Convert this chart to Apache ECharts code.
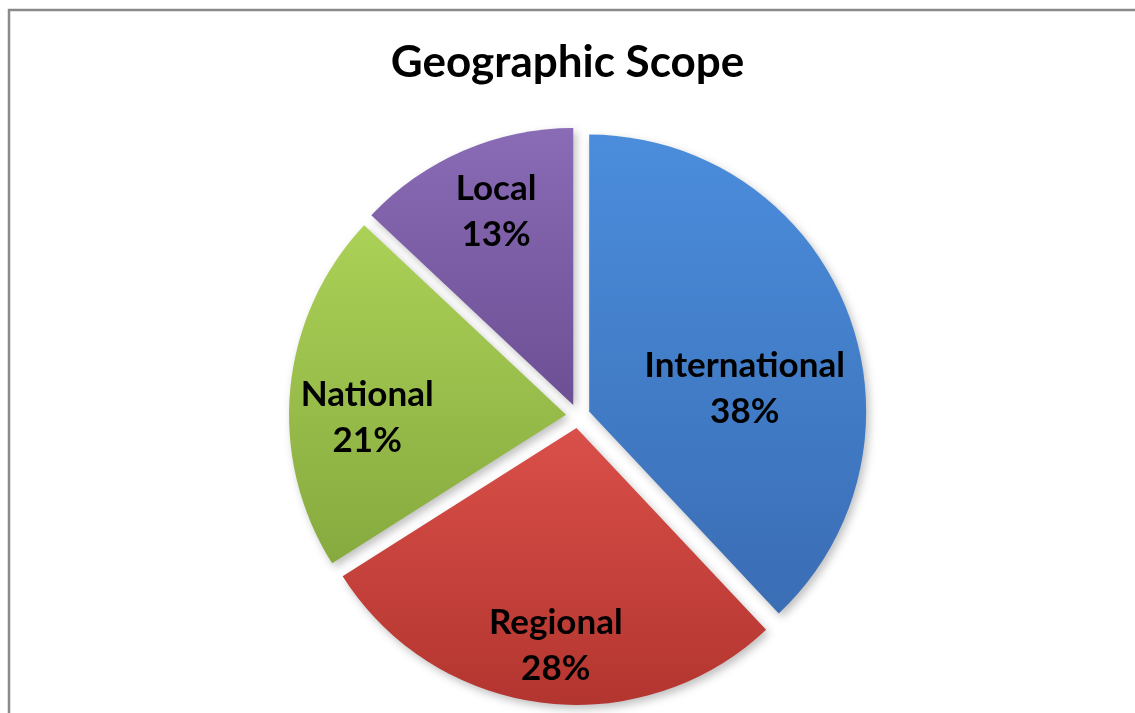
<!DOCTYPE html>
<html>
<head>
<meta charset="utf-8">
<title>Geographic Scope</title>
<script src="https://cdn.jsdelivr.net/npm/echarts@6/dist/echarts.min.js"></script>
<style>
  html, body { margin: 0; padding: 0; background: #fff; }
  #chart { width: 1135px; height: 713px; }
</style>
</head>
<body>
<div id="chart"></div>
<script>
const categories = ['International', 'Regional', 'National', 'Local'];
const shares = [38, 28, 21, 13];

// slice colours (light top -> dark bottom)
const topColors = ['#4b8ddc', '#da4f49', '#abd157', '#8a6bb6'];
const bottomColors = ['#3a6db4', '#b3352f', '#86aa3e', '#6c4f94'];

// label nudges so text sits where the original puts it
const labelNudge = [[24, 29], [-3, 77], [-58, 16], [-21, -63]];

const chart = echarts.init(document.getElementById('chart'));

const option = {
  animation: false,
  title: {
    text: 'Geographic Scope',
    left: 'center',
    top: 36,
    textStyle: {
      fontFamily: 'Lato',
      fontSize: 44,
      fontWeight: 'bold',
      color: '#000'
    }
  },
  graphic: [
    {
      type: 'rect',
      shape: { x: 9, y: 10, width: 2000, height: 2000 },
      style: { fill: 'none', stroke: '#8a8a8a', lineWidth: 2.5 },
      silent: true
    }
  ],
  series: [
    {
      type: 'pie',
      center: [578, 416],
      radius: [0, 277],
      startAngle: 90,
      clockwise: true,
      selectedMode: 'multiple',
      selectedOffset: 12,
      emphasis: { disabled: true },
      itemStyle: {
        shadowBlur: 8,
        shadowOffsetX: 3,
        shadowOffsetY: 4,
        shadowColor: 'rgba(0,0,0,0.25)'
      },
      label: {
        show: true,
        position: 'inside',
        formatter: '{b}\n{d}%',
        fontFamily: 'Lato',
        fontSize: 35,
        fontWeight: 'bold',
        lineHeight: 46,
        color: '#000'
      },
      labelLine: { show: false },
      labelLayout: function (params) {
        const n = labelNudge[params.dataIndex];
        return { dx: n[0], dy: n[1] };
      },
      data: categories.map(function (name, i) {
        return {
          name: name,
          value: shares[i],
          selected: true,
          itemStyle: {
            color: new echarts.graphic.LinearGradient(0, 0, 0, 1, [
              { offset: 0, color: topColors[i] },
              { offset: 1, color: bottomColors[i] }
            ])
          }
        };
      })
    }
  ]
};

chart.setOption(option);
</script>
</body>
</html>
